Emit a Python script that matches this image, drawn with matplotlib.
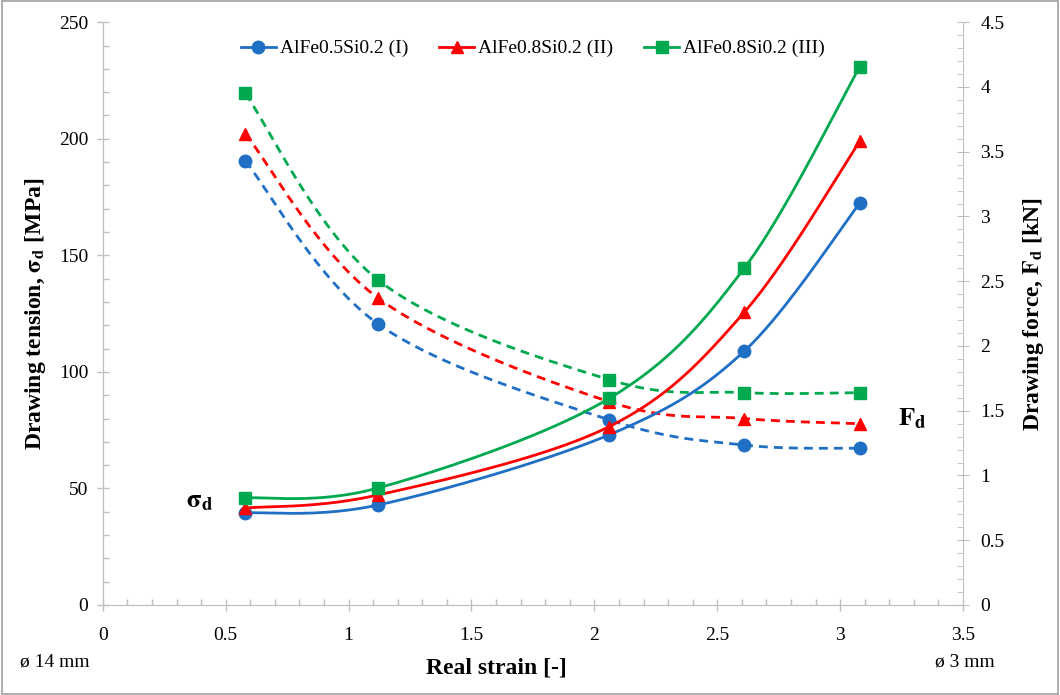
import numpy as np
import matplotlib
matplotlib.use("Agg")
import matplotlib.pyplot as plt
from matplotlib.ticker import MultipleLocator
from matplotlib.lines import Line2D

plt.rcParams['font.family'] = ['Liberation Serif', 'DejaVu Serif']
plt.rcParams['mathtext.fontset'] = 'stix'

strain = [0.58, 1.12, 2.06, 2.61, 3.08]
series = ["AlFe0.5Si0.2 (I)", "AlFe0.8Si0.2 (II)", "AlFe0.8Si0.2 (III)"]
tension_I = [39.5, 42.9, 73.0, 108.9, 172.4]
tension_II = [41.6, 47.2, 76.5, 125.6, 199.0]
tension_III = [45.9, 50.2, 88.6, 144.5, 231.0]
force_I = [3.43, 2.17, 1.43, 1.235, 1.21]
force_II = [3.64, 2.37, 1.57, 1.44, 1.40]
force_III = [3.95, 2.51, 1.74, 1.64, 1.64]

colors = ["#1F6FC5", "#FF0000", "#00A94F"]
markers = ["o", "^", "s"]


def smooth(xs, ys, n=40):
    # Excel-like smoothed line (Catmull-Rom Bezier)
    x = np.asarray(xs, float)
    y = np.asarray(ys, float)
    P = np.column_stack([x, y])
    Pp = np.vstack([P[0], P, P[-1]])
    out = []
    t = np.linspace(0, 1, n)
    for i in range(len(P) - 1):
        p0, p1, p2, p3 = Pp[i], Pp[i + 1], Pp[i + 2], Pp[i + 3]
        c1 = p1 + (p2 - p0) / 6
        c2 = p2 - (p3 - p1) / 6
        seg = ((1 - t) ** 3)[:, None] * p1 + (3 * (1 - t) ** 2 * t)[:, None] * c1 \
            + (3 * (1 - t) * t ** 2)[:, None] * c2 + (t ** 3)[:, None] * p2
        out.append(seg if i == 0 else seg[1:])
    s = np.vstack(out)
    return s[:, 0], s[:, 1]


fig = plt.figure(figsize=(10.6, 6.95), dpi=100)
ax = fig.add_axes([0.097, 0.1295, 0.8115, 0.8385])
ax2 = ax.twinx()

tensions = [tension_I, tension_II, tension_III]
forces = [force_I, force_II, force_III]

for k in range(3):
    sx, sy = smooth(strain, forces[k])
    ax2.plot(sx, sy, color=colors[k], lw=2, ls=(0, (3.2, 2.2)))
    ax2.plot(strain, forces[k], ls='none', marker=markers[k], color=colors[k], ms=9)
for k in range(3):
    sx, sy = smooth(strain, tensions[k])
    ax2.plot(sx, np.array(sy) * 0.018, color=colors[k], lw=2)
    ax2.plot(strain, np.array(tensions[k]) * 0.018, ls='none', marker=markers[k],
             color=colors[k], ms=9)

ax.set_xlim(0, 3.5)
ax.set_ylim(0, 250)
ax2.set_ylim(0, 4.5)

grey = "#BFBFBF"
for a in (ax, ax2):
    for s in a.spines.values():
        s.set_color(grey)
    a.spines['top'].set_visible(False)
ax.spines['right'].set_visible(False)

ax.xaxis.set_major_locator(MultipleLocator(0.5))
ax.xaxis.set_minor_locator(MultipleLocator(0.1))
ax.yaxis.set_major_locator(MultipleLocator(50))
ax.yaxis.set_minor_locator(MultipleLocator(10))
ax2.yaxis.set_major_locator(MultipleLocator(0.5))
ax2.yaxis.set_minor_locator(MultipleLocator(0.1))
ax.set_xticks(np.arange(0, 3.51, 0.5))
ax.set_xticklabels(['0', '0.5', '1', '1.5', '2', '2.5', '3', '3.5'])
ax2.set_yticks(np.arange(0, 4.51, 0.5))
ax2.set_yticklabels(['0', '0.5', '1', '1.5', '2', '2.5', '3', '3.5', '4', '4.5'])

ax.tick_params(axis='both', which='major', direction='inout', length=9, color=grey,
               labelsize=14, width=1)
ax.tick_params(axis='both', which='minor', direction='in', length=4, color=grey, width=1)
ax.tick_params(axis='x', which='major', pad=11)
ax.tick_params(axis='y', which='major', pad=6)
ax2.tick_params(axis='y', which='major', direction='inout', length=9, color=grey,
                labelsize=14, pad=8)
ax2.tick_params(axis='y', which='minor', direction='in', length=4, color=grey)

ax.set_ylabel(r'Drawing tension, $\mathbf{\sigma_d}$ [MPa]', fontsize=17,
              fontweight='bold', labelpad=8)
ax2.set_ylabel(r'Drawing force, $\mathbf{F_d}$ [kN]', fontsize=17,
               fontweight='bold', labelpad=12)
ax.set_xlabel('Real strain [-]', fontsize=17, fontweight='bold', va='center')
ax.xaxis.set_label_coords(0.458, -0.108)

fig.text(0.052, 0.048, 'ø 14 mm', fontsize=14, ha='center', va='center')
fig.text(0.91, 0.048, 'ø 3 mm', fontsize=14, ha='center', va='center')
fig.text(0.188, 0.277, r'$\mathbf{\sigma_d}$', fontsize=19, ha='center', va='center')
fig.text(0.861, 0.398, r'$\mathbf{F_d}$', fontsize=19, ha='center', va='center')

handles = [Line2D([], [], color=colors[k], marker=markers[k], lw=2, ms=9)
           for k in range(3)]
ax2.legend(handles, series, loc='upper center', bbox_to_anchor=(0.5, 1.0),
           ncol=3, frameon=False, fontsize=14, handlelength=1.8,
           handletextpad=0.2, columnspacing=1.6)

fig.patches.append(plt.Rectangle((0.002, 0.002), 0.996, 0.996, transform=fig.transFigure,
                                 fill=False, edgecolor='#A0A0A0', lw=1.2))

fig.savefig('out.png', dpi=100)
